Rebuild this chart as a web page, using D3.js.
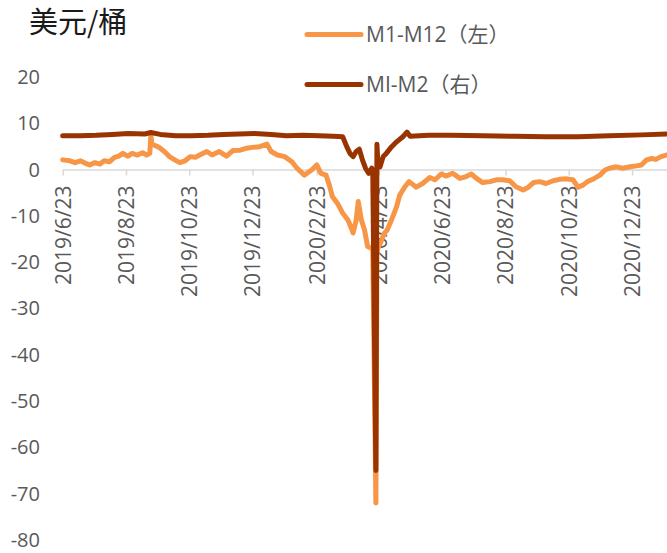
<!DOCTYPE html>
<html>
<head>
<meta charset="utf-8">
<script src="https://cdn.jsdelivr.net/npm/d3@7"></script>
<style>
  body { margin: 0; background: #fff; }
  svg { display: block; }
  text { font-family: "Open Sans", "Noto Sans CJK SC", sans-serif; }
</style>
</head>
<body>
<div id="chart"></div>
<script>
// M1-M12 (left axis)
var m1m12Dates = ["2019-06-23","2019-06-30","2019-07-05","2019-07-10","2019-07-15","2019-07-19","2019-07-24","2019-07-29",
  "2019-08-02","2019-08-07","2019-08-12","2019-08-16","2019-08-20","2019-08-25","2019-08-29","2019-09-03","2019-09-08",
  "2019-09-12","2019-09-15","2019-09-16","2019-09-17","2019-09-19","2019-09-24","2019-09-29","2019-10-04","2019-10-09",
  "2019-10-14","2019-10-19","2019-10-24","2019-10-29","2019-11-02","2019-11-09","2019-11-14","2019-11-21","2019-11-28",
  "2019-12-04","2019-12-11","2019-12-17","2019-12-23","2019-12-30","2020-01-06","2020-01-10","2020-01-16","2020-01-23",
  "2020-01-30","2020-02-04","2020-02-11","2020-02-18","2020-02-23","2020-02-27","2020-03-03","2020-03-06","2020-03-09",
  "2020-03-14","2020-03-19","2020-03-24","2020-03-28","2020-03-29","2020-04-01","2020-04-03","2020-04-06","2020-04-09",
  "2020-04-12","2020-04-16","2020-04-17","2020-04-20","2020-04-21","2020-04-22","2020-04-25","2020-04-28","2020-05-01",
  "2020-05-05","2020-05-10","2020-05-13","2020-05-18","2020-05-22","2020-05-29","2020-06-04","2020-06-11","2020-06-16",
  "2020-06-22","2020-06-27","2020-07-03","2020-07-10","2020-07-16","2020-07-21","2020-07-26","2020-08-01","2020-08-08",
  "2020-08-14","2020-08-20","2020-08-27","2020-09-02","2020-09-09","2020-09-14","2020-09-19","2020-09-25","2020-10-01",
  "2020-10-08","2020-10-14","2020-10-21","2020-10-27","2020-11-01","2020-11-06","2020-11-10","2020-11-15","2020-11-22",
  "2020-11-27","2020-12-01","2020-12-08","2020-12-14","2020-12-21","2020-12-27","2021-01-01","2021-01-06","2021-01-11",
  "2021-01-15","2021-01-20","2021-01-25"];
var m1m12Values = [2.1,1.9,1.5,1.9,1.35,1.0,1.5,1.2,
  1.9,1.7,2.65,2.9,3.5,2.9,3.5,3.15,3.65,
  3.15,3.5,7.3,5.5,5.3,4.8,3.9,2.8,2.1,
  1.5,1.9,2.8,2.65,3.15,3.9,3.15,3.9,2.9,
  4.1,4.2,4.6,4.8,4.95,5.5,3.9,3.15,2.8,
  1.7,0.3,-1.2,-0.1,1.0,-0.8,-1.2,-3.3,-5.8,
  -7.3,-9.4,-10.9,-13,-13.7,-10.9,-6.9,-10.9,-13,
  -16.6,-17,-17.5,-72,-18,-17,-15.5,-13.8,-13,
  -10.9,-8,-5.5,-3.7,-2.6,-3.8,-3,-1.7,-2.2,
  -0.95,-1.4,-0.8,-1.9,-1.5,-0.95,-1.9,-2.8,-2.6,
  -2.2,-2.2,-2.4,-3.7,-4.4,-3.8,-2.8,-2.6,-3,
  -2.4,-2.1,-2.0,-2.2,-3.8,-3.3,-2.6,-2.1,-1.2,
  -0.1,0.3,0.6,0.3,0.6,0.8,1.0,2.1,2.4,
  2.2,2.8,3.15];

// MI-M2 (right axis)
var mim2Dates = ["2019-06-23","2019-07-10","2019-07-25","2019-08-10","2019-08-25","2019-09-10","2019-09-16","2019-09-25",
  "2019-10-10","2019-10-25","2019-11-10","2019-11-25","2019-12-10","2019-12-25","2020-01-10","2020-01-25","2020-02-10",
  "2020-02-25","2020-03-10","2020-03-19","2020-03-23","2020-03-26","2020-03-29","2020-04-01","2020-04-04","2020-04-07",
  "2020-04-10","2020-04-13","2020-04-16","2020-04-17","2020-04-20","2020-04-21","2020-04-22","2020-04-24","2020-04-27",
  "2020-04-30","2020-05-05","2020-05-10","2020-05-16","2020-05-20","2020-05-23","2020-06-10","2020-07-01","2020-08-01",
  "2020-09-01","2020-10-01","2020-11-01","2020-12-01","2021-01-01","2021-01-26"];
var mim2Values = [7.3,7.3,7.4,7.6,7.8,7.7,8.0,7.6,
  7.3,7.3,7.4,7.6,7.7,7.8,7.6,7.3,7.4,
  7.3,7.2,7.1,4.9,3.5,2.8,3.9,4.4,2.1,
  0.3,-0.8,0.3,-0.5,-65,5.5,1.0,0.6,2.8,
  3.5,4.9,6.0,7.1,8.1,7.2,7.4,7.4,7.3,
  7.2,7.1,7.1,7.3,7.5,7.7];

var xTicks = ["2019-06-23","2019-08-23","2019-10-23","2019-12-23","2020-02-23",
  "2020-04-23","2020-06-23","2020-08-23","2020-10-23","2020-12-23"];
var yTicks = [20, 10, 0, -10, -20, -30, -40, -50, -60, -70, -80];

var seriesNames = ["M1-M12（左）", "MI-M2（右）"];
var seriesColors = ["#f79646", "#993300"];

var parse = d3.timeParse("%Y-%m-%d");
var w = 667, h = 553;

var svg = d3.select("#chart").append("svg")
  .attr("width", w)
  .attr("height", h);

var x = d3.scaleTime()
  .domain([parse("2019-06-23"), parse("2021-01-26")])
  .range([62.7, 667.3]);

var y = d3.scaleLinear()
  .domain([-80, 20])
  .range([540, 77]);

// y axis labels only
var yAxis = d3.axisLeft(y)
  .tickValues(yTicks)
  .tickSize(0)
  .tickPadding(0)
  .tickFormat(function(d){ return String(d); });
var gy = svg.append("g")
  .attr("transform", "translate(40,0)")
  .call(yAxis);
gy.select(".domain").remove();
gy.selectAll("text")
  .attr("fill", "#595959")
  .style("font-size", "20px")
  .style("font-family", "'Open Sans', sans-serif");

// x axis at zero
var xAxis = d3.axisBottom(x)
  .tickValues(xTicks.map(parse))
  .tickSize(6)
  .tickSizeOuter(0)
  .tickFormat(d3.timeFormat("%Y/%-m/%-d"));
var gx = svg.append("g")
  .attr("transform", "translate(0," + y(0) + ")")
  .call(xAxis);
gx.select(".domain").attr("stroke", "#d9d9d9").attr("stroke-width", 1.5);
gx.selectAll(".tick line").attr("stroke", "#d9d9d9").attr("stroke-width", 1.5);
gx.selectAll("text")
  .attr("fill", "#595959")
  .style("font-size", "21px")
  .style("font-family", "'Open Sans', sans-serif")
  .attr("text-anchor", "end")
  .attr("transform", "rotate(-90)")
  .attr("x", -16)
  .attr("y", 0)
  .attr("dy", "0.35em");

// lines
var orangeData = m1m12Dates.map(function(d, i){ return {date: parse(d), value: m1m12Values[i]}; });
var darkData = mim2Dates.map(function(d, i){ return {date: parse(d), value: mim2Values[i]}; });

var line = d3.line()
  .x(function(d){ return x(d.date); })
  .y(function(d){ return y(d.value); });

[orangeData, darkData].forEach(function(data, i){
  svg.append("path")
    .datum(data)
    .attr("fill", "none")
    .attr("stroke", seriesColors[i])
    .attr("stroke-width", 5)
    .attr("stroke-linejoin", "round")
    .attr("stroke-linecap", "round")
    .attr("d", line);
});

// unit label
svg.append("text")
  .attr("x", 29)
  .attr("y", 33)
  .attr("fill", "#1a1a1a")
  .style("font-size", "29px")
  .style("font-family", "'Noto Sans CJK SC', sans-serif")
  .text("美元/桶");

// legend
var legend = svg.append("g").attr("transform", "translate(307,0)");
seriesNames.forEach(function(name, i){
  var ly = i === 0 ? 34.5 : 84.5;
  legend.append("line")
    .attr("x1", 0).attr("x2", 54)
    .attr("y1", ly).attr("y2", ly)
    .attr("stroke", seriesColors[i])
    .attr("stroke-width", 5)
    .attr("stroke-linecap", "round");
  legend.append("text")
    .attr("x", 59)
    .attr("y", ly)
    .attr("dy", "0.35em")
    .attr("fill", "#595959")
    .style("font-size", "21px")
    .text(name);
});
</script>
</body>
</html>
